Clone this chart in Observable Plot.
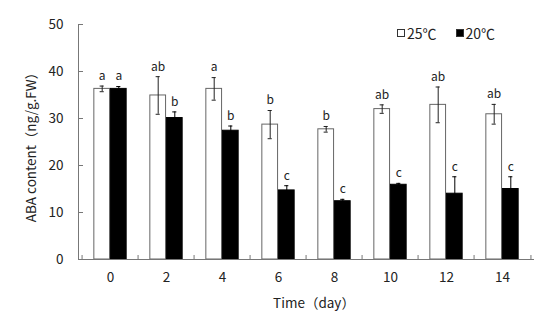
<!DOCTYPE html>
<html><head><meta charset="utf-8">
<script src="https://cdn.jsdelivr.net/npm/d3@7"></script>
<script src="https://cdn.jsdelivr.net/npm/@observablehq/plot@0.6"></script>
<style>
body{margin:0;background:#fff;font-family:"Noto Sans CJK KR","Open Sans",sans-serif;}
#wrap{position:relative;width:550px;height:328px;}
#legend{position:absolute;top:24px;left:397px;display:flex;gap:19px;font-size:14px;color:#222;align-items:center;line-height:18px;}
#legend .item{display:flex;align-items:center;gap:2px;}
#legend .sw{display:inline-block;width:6px;height:6px;border:1px solid #333;}
</style></head><body><div id="wrap"></div>
<script>
const days = [0, 2, 4, 6, 8, 10, 12, 14];
const series = ["25℃", "20℃"];
const seriesFill = ["white", "black"];
const mean25 = [36.3, 34.9, 36.3, 28.7, 27.7, 32.0, 32.9, 30.9];
const err25 = [0.6, 4.0, 2.4, 3.0, 0.6, 0.9, 3.8, 2.1];
const letters25 = ["a", "ab", "a", "b", "b", "ab", "ab", "ab"];
const mean20 = [36.3, 30.1, 27.4, 14.7, 12.4, 15.9, 14.0, 15.0];
const err20 = [0.5, 1.3, 1.0, 1.0, 0.4, 0.3, 3.6, 2.6];
const letters20 = ["a", "b", "b", "c", "c", "c", "c", "c"];
const yTicks = [0, 10, 20, 30, 40, 50];
const yTitle = "ABA content（ng/g.FW）";
const xTitle = "Time（day）";

const W = 550, H = 328, mL = 78, mR = 17, mT = 24, mB = 69;
const bw = (W - mL - mR) / days.length;
const half = bw / 2;
const barW = 16.6;
const capHalf = 2.5;

const means = [mean25, mean20], errs = [err25, err20], letters = [letters25, letters20];
const rowsBy = series.map((s, k) => days.map((d, i) => ({day: d, series: s, mean: means[k][i], err: errs[k][i], letter: letters[k][i]})));
const offs = [-barW / 2, barW / 2];
const insets = [{insetLeft: half - barW, insetRight: half}, {insetLeft: half, insetRight: half - barW}];
const strokes = ["#666", "black"];
const errColor = ["#222", "black"];

const marks = [];
rowsBy.forEach((rows, k) => {
  marks.push(Plot.barY(rows, {x: "day", y: "mean", fill: seriesFill[k], stroke: strokes[k], strokeWidth: 1, ...insets[k]}));
  marks.push(Plot.ruleX(rows, {x: "day", y1: d => d.mean - d.err, y2: d => d.mean + d.err, dx: offs[k], stroke: errColor[k]}));
  marks.push(Plot.tickY(rows, {x: "day", y: d => d.mean + d.err, dx: offs[k], insetLeft: half - capHalf, insetRight: half - capHalf, stroke: errColor[k]}));
  marks.push(Plot.tickY(rows, {x: "day", y: d => d.mean - d.err, dx: offs[k], insetLeft: half - capHalf, insetRight: half - capHalf, stroke: errColor[k]}));
  marks.push(Plot.text(rows, {x: "day", y: d => d.mean + d.err, text: "letter", dx: offs[k], dy: -10, fontSize: 12, fill: "#222"}));
});

const chart = Plot.plot({
  width: W, height: H,
  marginLeft: mL, marginRight: mR, marginTop: mT, marginBottom: mB,
  style: {fontFamily: '"Noto Sans CJK KR","Open Sans",sans-serif', background: "white", color: "#222"},
  x: {type: "band", domain: days, paddingInner: 0, paddingOuter: 0},
  y: {domain: [0, 50]},
  marks: [
    ...marks,
    Plot.frame({anchor: "left", stroke: "#777"}),
    Plot.frame({anchor: "bottom", stroke: "#777"}),
    Plot.axisY({ticks: yTicks, tickSize: 0, tickPadding: 15, fontSize: 13.5, label: null}),
    Plot.axisY({ticks: yTicks, tickSize: 5, dx: 5, tickFormat: () => "", label: null, stroke: "#777"}),
    Plot.axisX({tickSize: 0, tickPadding: 13, fontSize: 13.5, label: null}),
    Plot.axisX({tickSize: 4, dx: -half, dy: -4, tickFormat: () => "", label: null, stroke: "#777"}),
    Plot.axisX({ticks: [days[days.length - 1]], tickSize: 4, dx: half, dy: -4, tickFormat: () => "", label: null, stroke: "#777"}),
    Plot.text([yTitle], {frameAnchor: "left", text: d => d, rotate: -90, dx: -47, dy: 2, textAnchor: "middle", lineAnchor: "middle", fontSize: 13.5, fill: "#222"}),
    Plot.text([xTitle], {frameAnchor: "bottom", text: d => d, dx: 8, dy: 44, textAnchor: "middle", lineAnchor: "middle", fontSize: 13.5, fill: "#222"})
  ]
});
const wrap = document.getElementById("wrap");
wrap.appendChild(chart);

const legend = d3.select(wrap).append("div").attr("id", "legend");
series.forEach((s, i) => {
  const item = legend.append("span").attr("class", "item");
  item.append("span").attr("class", "sw").style("background", seriesFill[i]);
  item.append("span").text(s);
});
</script></body></html>
